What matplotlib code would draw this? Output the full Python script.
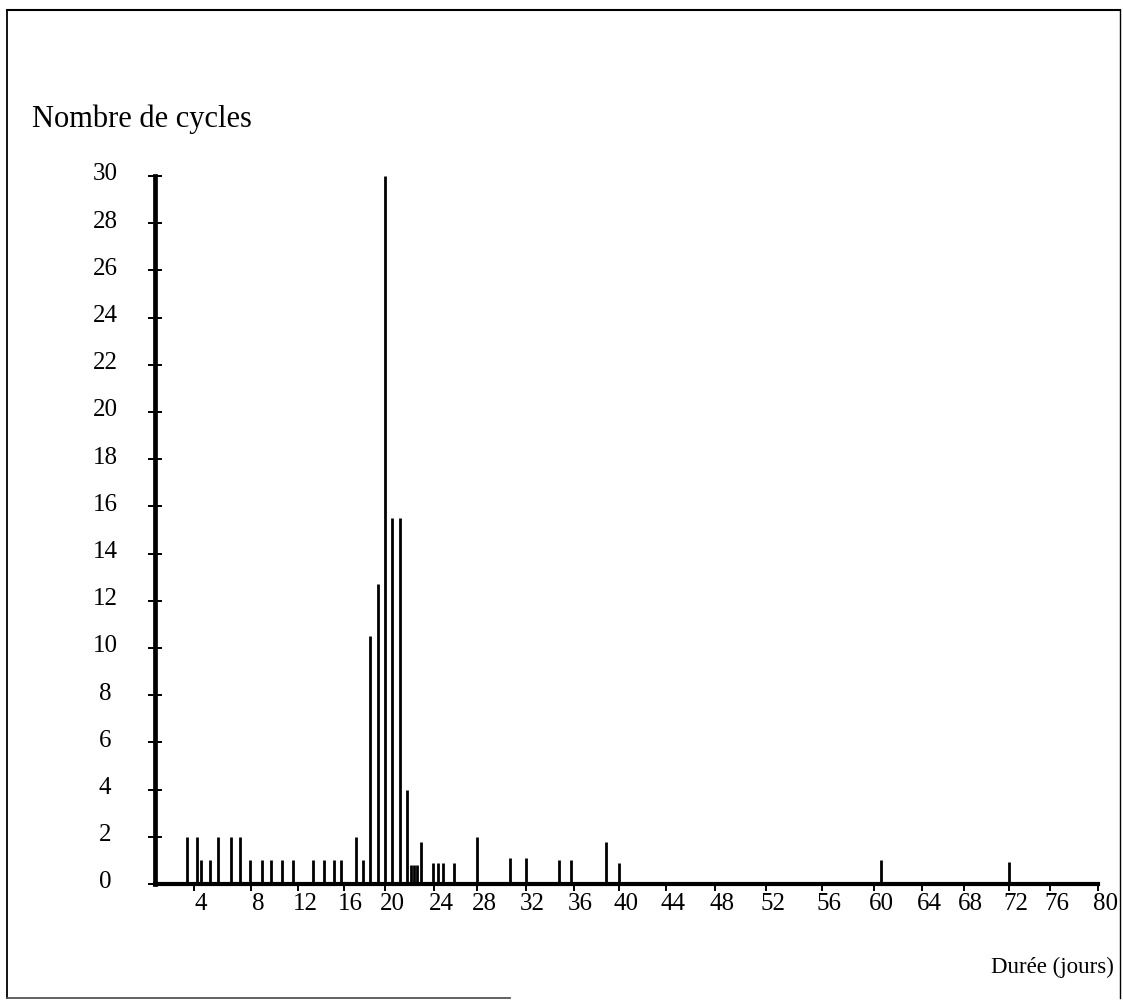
import numpy as np
import matplotlib
matplotlib.use("Agg")
import matplotlib.pyplot as plt
import matplotlib.transforms as mtransforms
from matplotlib.lines import Line2D

# ---------------- data ----------------
durations = [3.3, 4.2, 4.5, 5.1, 5.7, 6.6, 7.2, 7.9, 8.9, 9.7, 10.6, 11.6,
             13.3, 14.3, 15.2, 15.8, 17.2, 17.9, 18.6, 19.3, 20.0, 20.6,
             21.2, 21.8, 22.1, 22.4, 22.6, 22.9, 23.9, 24.4, 24.8, 25.9,
             28.0, 30.7, 32.0, 34.8, 35.8, 38.9, 40.0, 60.6, 72.0]
cycles = [2, 2, 1, 1, 2, 2, 2, 1, 1, 1, 1, 1,
          1, 1, 1, 1, 2, 1, 10.5, 12.7, 30, 15.5,
          15.5, 4, 0.8, 0.8, 0.8, 1.8, 0.9, 0.9, 0.9, 0.9,
          2, 1.1, 1.1, 1, 1, 1.8, 0.9, 1, 0.95]

x_ticks = [4, 8, 12, 16, 20, 24, 28, 32, 36, 40, 44, 48, 52, 56, 60, 64, 68, 72, 76, 80]
y_ticks = list(range(0, 31, 2))

# hand-drawn (non-uniform) duration axis: day value -> relative position
axis_days = [0, 4, 8, 12, 16, 20, 24, 28, 32, 36, 40, 44, 48, 52, 56, 60, 64, 68, 72, 76, 80]
axis_pos = [155, 194, 251, 298, 343.5, 385, 434, 477, 525.5, 573.5, 618.5, 666, 715,
            766, 821.5, 874, 922, 963.5, 1009, 1050, 1098]

title_text = "Nombre de cycles"
xlabel_text = "Durée (jours)"

# ---------------- figure ----------------
W, H, DPI = 1123, 1003, 100
fig = plt.figure(figsize=(W / DPI, H / DPI), dpi=DPI)
fig.patch.set_facecolor("white")
serif = ["Liberation Serif", "DejaVu Serif"]

ax_left, ax_right, ax_top, ax_bottom = 155, 1098, 177, 885
ax = fig.add_axes([ax_left / W, 1 - ax_bottom / H,
                   (ax_right - ax_left) / W, (ax_bottom - ax_top) / H])

ad = np.array(axis_days, float)
ap = np.array(axis_pos, float)


def fwd(x):
    return np.interp(x, ad, ap)


def inv(p):
    return np.interp(p, ap, ad)


ax.set_xscale("function", functions=(fwd, inv))
ax.set_xlim(0, 80)
ax.set_ylim(0, 30)

ax.vlines(durations, 0, cycles, colors="black", linewidth=2.0, clip_on=False, zorder=3)

for s in ["top", "right"]:
    ax.spines[s].set_visible(False)
ax.spines["left"].set_linewidth(3.4)
ax.spines["bottom"].set_linewidth(3.0)
for s in ["left", "bottom"]:
    ax.spines[s].set_color("black")
    ax.spines[s].set_zorder(4)

ax.set_xticks(x_ticks)
ax.set_xticklabels([str(v) for v in x_ticks], family=serif, fontsize=18)
ax.minorticks_off()
ax.set_yticks(y_ticks)
ax.set_yticklabels([str(v) for v in y_ticks], family=serif, fontsize=18)

ax.tick_params(axis="x", direction="out", length=5, width=1.4, pad=1, colors="black")
ax.tick_params(axis="y", direction="inout", length=10, width=1.4, pad=31, colors="black")

off_x = mtransforms.ScaledTranslation(7 / DPI, 0, fig.dpi_scale_trans)
for lab in ax.get_xticklabels():
    lab.set_transform(lab.get_transform() + off_x)
off_y = mtransforms.ScaledTranslation(0, 5 / DPI, fig.dpi_scale_trans)
for lab in ax.get_yticklabels():
    lab.set_horizontalalignment("center")
    lab.set_transform(lab.get_transform() + off_y)

fig.text(32 / W, 1 - 119 / H, title_text, family=serif, fontsize=22,
         ha="left", va="center")
fig.text(1114 / W, 1 - 967 / H, xlabel_text, family=serif, fontsize=16.5,
         ha="right", va="center")

# page frame
tf = fig.transFigure
fig.add_artist(Line2D([7 / W, 7 / W], [1 - 11 / H, 1 - 999 / H], transform=tf, color="black", lw=1.3))
fig.add_artist(Line2D([7 / W, 1120 / W], [1 - 11 / H, 1 - 11 / H], transform=tf, color="black", lw=1.5))
fig.add_artist(Line2D([1120 / W, 1120 / W], [1 - 11 / H, 1 - 999 / H], transform=tf, color="black", lw=1.0))
fig.add_artist(Line2D([7 / W, 510 / W], [1 - 999 / H, 1 - 999 / H], transform=tf, color="#555555", lw=1.3))

fig.savefig("out.png", dpi=DPI, facecolor="white")
